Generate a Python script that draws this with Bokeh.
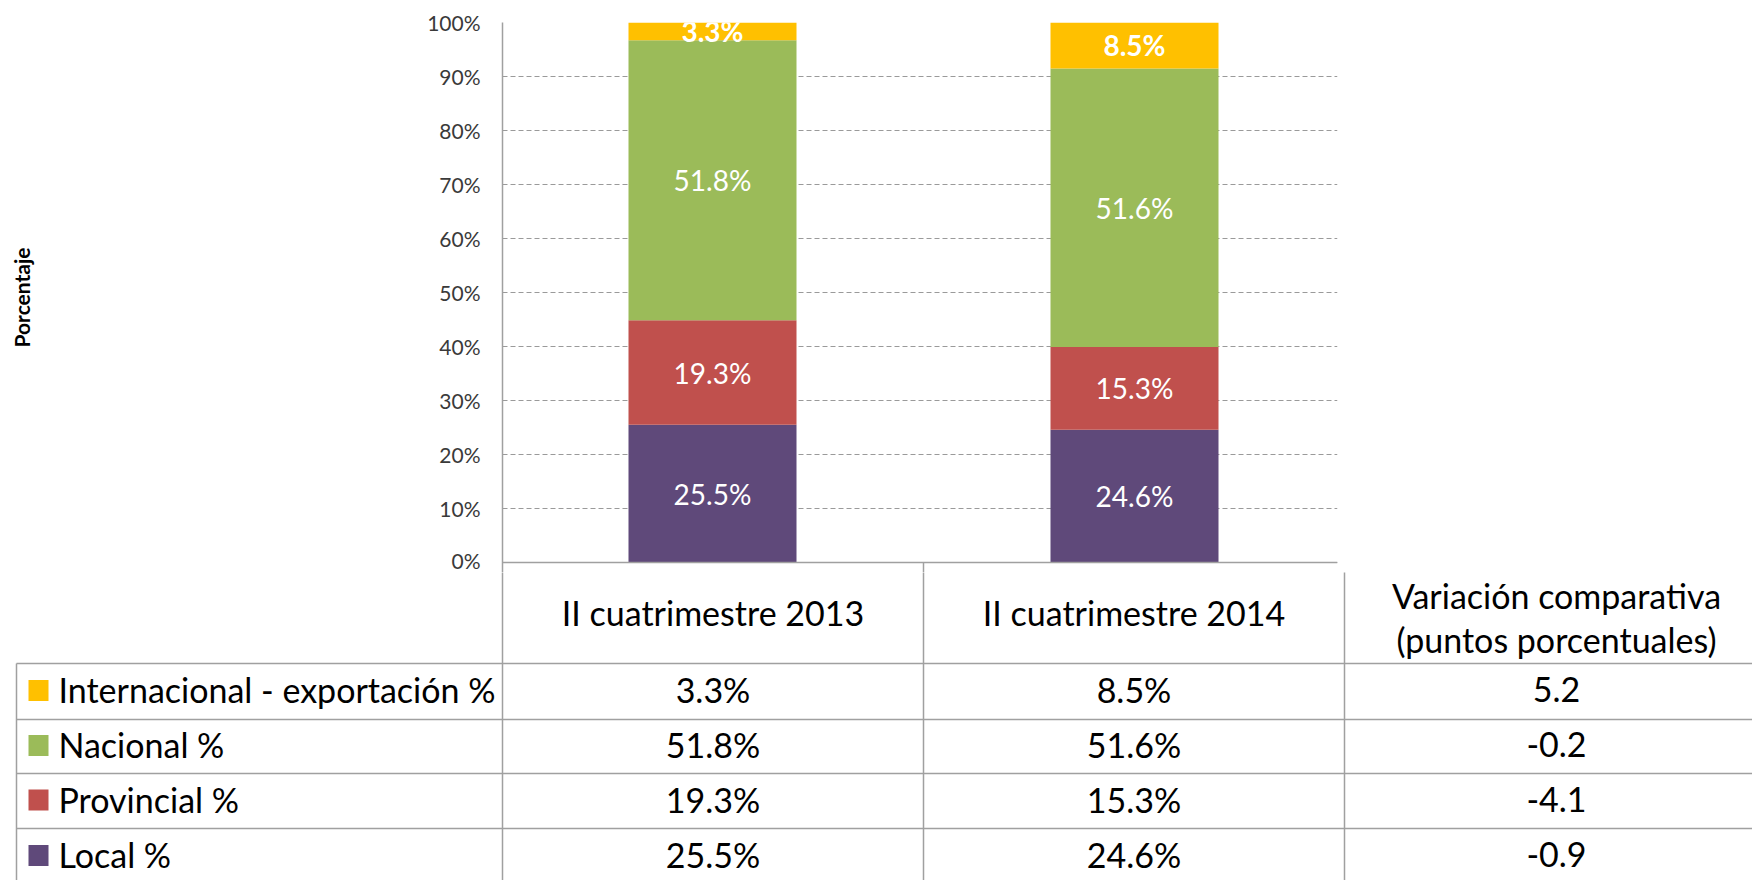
from bokeh.plotting import figure
from bokeh.models import ColumnDataSource, Range1d, PrintfTickFormatter, FixedTicker
from bokeh.embed import file_html
from bokeh.resources import INLINE
from bokeh.core.properties import value

# ---------------- data ----------------
categories = ["II cuatrimestre 2013", "II cuatrimestre 2014"]
series = ["Local %", "Provincial %", "Nacional %", "Internacional - exportación %"]
local = [25.5, 24.6]
provincial = [19.3, 15.3]
nacional = [51.8, 51.6]
internacional = [3.3, 8.5]
variacion = [-0.9, -4.1, -0.2, 5.2]   # per series, same order as `series`
variacion_header = "Variación comparativa\n(puntos porcentuales)"
y_ticks = [0, 10, 20, 30, 40, 50, 60, 70, 80, 90, 100]
colors = ["#5F497A", "#C0504D", "#9BBB59", "#FFC000"]
y_label = "Porcentaje"

FONT = "Lato"
W, H = 1752, 880

# ---------------- layout constants (pixel coords) ----------------
FRAME_L, FRAME_R, FRAME_T, FRAME_B = 502, 1337, 22, 562
CAT_C0, CAT_PITCH, BAR_W = 712, 422, 168
EXT = 10   # chart frame extends below 0% into the table header

values = [local, provincial, nacional, internacional]
n = len(categories)
totals = [sum(v[i] for v in values) for i in range(n)]
norm = [[v[i] / totals[i] * 100 for i in range(n)] for v in values]

data = {"x": list(range(n))}
for name, vals in zip(series, norm):
    data[name] = vals
source = ColumnDataSource(data)

PX = 100 / (FRAME_B - FRAME_T)       # percent per pixel
x0r = -(CAT_C0 - FRAME_L) / CAT_PITCH
x1r = (FRAME_R - CAT_C0) / CAT_PITCH
p = figure(width=W, height=FRAME_B + EXT, output_backend="svg", toolbar_location=None,
           x_axis_type=None,
           x_range=Range1d(x0r, x1r),
           y_range=Range1d(-EXT * PX, 100),
           min_border_left=FRAME_L, min_border_right=W - FRAME_R,
           min_border_top=FRAME_T, min_border_bottom=0)
p.outline_line_color = None
p.xgrid.grid_line_color = None
p.ygrid.grid_line_color = "#9A9A9A"
p.ygrid.grid_line_dash = "5 3"
p.ygrid.grid_line_width = 1

p.vbar_stack(series, x="x", width=BAR_W / CAT_PITCH, color=colors, line_color=None, source=source)

bottoms = [0.0] * n
for k, (name, vals, raw) in enumerate(zip(series, norm, values)):
    mids = [bottoms[i] + vals[i] / 2 for i in range(n)]
    lab = ColumnDataSource({"x": list(range(n)), "y": mids,
                            "t": [f"{raw[i]:.1f}%" for i in range(n)]})
    p.text(x="x", y="y", text="t", source=lab, text_color="white",
           text_font=value(FONT), text_font_size="28px",
           text_font_style="bold" if k == len(series) - 1 else "normal",
           text_align="center", text_baseline="middle")
    bottoms = [bottoms[i] + vals[i] for i in range(n)]

LINE = "#A0A0A0"
# category axis baseline and upper part of the table's column separator
p.segment(x0=[x0r], y0=[0], x1=[x1r], y1=[0], line_color=LINE, line_width=1.5)
sep = (FRAME_L + CAT_PITCH - 1 - CAT_C0) / CAT_PITCH
p.segment(x0=[sep], y0=[0], x1=[sep], y1=[-EXT * PX], line_color=LINE, line_width=1.5)

yax = p.yaxis[0]
yax.ticker = FixedTicker(ticks=y_ticks)
yax.formatter = PrintfTickFormatter(format="%d%%")
yax.major_tick_out = 0
yax.major_tick_in = 0
yax.minor_tick_out = 0
yax.minor_tick_in = 0
yax.major_label_standoff = 22
yax.major_label_text_font = FONT
yax.major_label_text_font_size = "21px"
yax.major_label_text_color = "#3A3A3A"
yax.axis_line_color = LINE
yax.axis_line_width = 1.5
yax.axis_label = y_label
yax.axis_label_text_font = FONT
yax.axis_label_text_font_size = "21px"
yax.axis_label_text_font_style = "bold"
yax.axis_label_text_color = "black"
yax.axis_label_standoff = 390

# ---------------- data table ----------------
TOP, BOT = FRAME_B + EXT, H
t = figure(width=W, height=BOT - TOP, output_backend="svg", toolbar_location=None,
           x_axis_type=None, y_axis_type=None,
           x_range=Range1d(0, W), y_range=Range1d(BOT, TOP),
           min_border=0)
t.outline_line_color = None
t.xgrid.grid_line_color = None
t.ygrid.grid_line_color = None

col_edges = [FRAME_L, FRAME_L + CAT_PITCH - 1, FRAME_L + 2 * CAT_PITCH - 2, FRAME_L + 3 * CAT_PITCH]
col_centers = [(col_edges[i] + col_edges[i + 1]) / 2 for i in range(3)]
row_edges = [663, 719, 773, 828, 884]
row_centers = [(row_edges[i] + row_edges[i + 1]) / 2 - 2 for i in range(4)]
LEFT = 16

t.segment(x0=[LEFT] * 4, y0=row_edges[:4], x1=[W + 10] * 4, y1=row_edges[:4], line_color=LINE, line_width=1.5)
t.segment(x0=[LEFT] + col_edges[:3], y0=[row_edges[0]] + [TOP - 2] * 3,
          x1=[LEFT] + col_edges[:3], y1=[BOT] * 4, line_color=LINE, line_width=1.5)

t.text(x=col_centers[:2], y=[612, 612], text=categories, text_font=value(FONT), text_font_size="34px",
       text_color="black", text_align="center", text_baseline="middle")
t.text(x=[col_centers[2]], y=[617], text=[variacion_header], text_font=value(FONT), text_font_size="34px",
       text_color="black", text_align="center", text_baseline="middle", text_line_height=1.06)

order = list(range(len(series)))[::-1]
t.rect(x=[38] * 4, y=[c + 1 for c in row_centers], width=20, height=21,
       fill_color=[colors[k] for k in order], line_color=None)
t.text(x=[58] * 4, y=row_centers, text=[series[k] for k in order], text_font=value(FONT),
       text_font_size="34px", text_color="black", text_align="left", text_baseline="middle")
for ci in range(n):
    t.text(x=[col_centers[ci]] * 4, y=row_centers, text=[f"{values[k][ci]:.1f}%" for k in order],
           text_font=value(FONT), text_font_size="34px", text_color="black",
           text_align="center", text_baseline="middle")
t.text(x=[col_centers[2]] * 4, y=row_centers, text=[f"{variacion[k]:.1f}" for k in order],
       text_font=value(FONT), text_font_size="34px", text_color="black",
       text_align="center", text_baseline="middle")

open("out.html", "w").write(file_html([p, t], INLINE))
